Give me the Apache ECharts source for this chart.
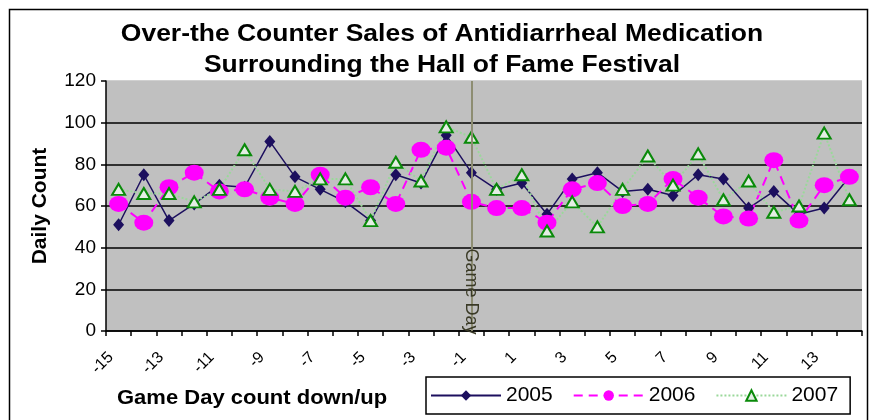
<!DOCTYPE html>
<html>
<head>
<meta charset="utf-8">
<script src="https://cdn.jsdelivr.net/npm/echarts@6/dist/echarts.min.js"></script>
<style>
html,body{margin:0;padding:0;background:#fff;}
#chart{width:872px;height:420px;}
</style>
</head>
<body>
<div id="chart"></div>
<script>
const categories = ['-15','-14','-13','-12','-11','-10','-9','-8','-7','-6','-5','-4','-3','-2','-1','0','1','2','3','4','5','6','7','8','9','10','11','12','13','14'];
const sales2005 = [51,75,53,61,70,69,91,74,68,62,53,75,71,94,76,68,71,56,73,76,67,68,65,75,73,59,67,56,59,74];
const sales2006 = [61,52,69,76,67,68,64,61,75,64,69,61,87,88,62,59,59,52,68,71,60,61,73,64,55,54,82,53,70,74];
const sales2007 = [68,66,66,62,68,87,68,67,73,73,53,81,72,98,93,68,75,48,62,50,68,84,70,85,63,72,57,60,95,63];
const seriesNames = ['2005','2006','2007'];
const titleLines = ['Over-the Counter Sales of Antidiarrheal Medication', 'Surrounding the Hall of Fame Festival'];
const xAxisTitle = 'Game Day count down/up';
const yAxisTitle = 'Daily Count';
const gameDayCategory = '-1';
const gameDayText = 'Game Day';
const yMin = 0, yMax = 120, yStep = 20;

const chart = echarts.init(document.getElementById('chart'), null, {renderer:'canvas'});
const FONT = 'Liberation Sans, Arial, sans-serif';

const option = {
  backgroundColor: '#ffffff',
  animation: false,
  graphic: [
    {
      type: 'rect', silent: true, z: -1,
      shape: {x: 9.5, y: 9.5, width: 858, height: 430},
      style: {fill: 'none', stroke: '#000', lineWidth: 1.5}
    },
    {
      type: 'text', silent: true, x: 442, y: 35, scaleX: 1.15,
      style: {text: titleLines[0], fill: '#000', font: 'bold 23px ' + FONT, textAlign: 'center', textVerticalAlign: 'middle', verticalAlign: 'middle'}
    },
    {
      type: 'text', silent: true, x: 442, y: 65.5, scaleX: 1.15,
      style: {text: titleLines[1], fill: '#000', font: 'bold 23px ' + FONT, textAlign: 'center', textVerticalAlign: 'middle', verticalAlign: 'middle'}
    },
    {
      type: 'text', silent: true, x: 117, y: 398, scaleX: 1.1,
      style: {text: xAxisTitle, fill: '#000', font: 'bold 20px ' + FONT, textAlign: 'left', textVerticalAlign: 'middle', verticalAlign: 'middle'}
    }
  ],
  legend: {
    data: seriesNames,
    left: 426, top: 377,
    padding: [8, 12, 8, 4],
    itemGap: 20,
    itemWidth: 70, itemHeight: 13,
    borderColor: '#000', borderWidth: 1.5,
    backgroundColor: '#fff',
    textStyle: {fontFamily: FONT, fontSize: 21, color: '#000'}
  },
  grid: {
    left: 106, right: 10, top: 81, bottom: 89,
    show: true, backgroundColor: '#c0c0c0', borderWidth: 0
  },
  xAxis: {
    type: 'category',
    data: categories,
    boundaryGap: true,
    axisLine: {lineStyle: {color: '#000', width: 1.5}},
    axisTick: {show: true, interval: 0, length: 5, lineStyle: {color: '#000', width: 1.5}},
    axisLabel: {interval: 1, rotate: 45, margin: 16, padding: [0, 11, 0, 0], fontFamily: FONT, fontSize: 16, color: '#000'},
    splitLine: {show: false}
  },
  yAxis: {
    type: 'value',
    min: yMin, max: yMax, interval: yStep,
    name: yAxisTitle,
    nameLocation: 'middle',
    nameGap: 55,
    nameRotate: 90,
    nameTextStyle: {fontFamily: FONT, fontWeight: 'bold', fontSize: 21, color: '#000'},
    axisLine: {show: true, lineStyle: {color: '#000', width: 1.5}},
    axisTick: {show: true, length: 5, lineStyle: {color: '#000', width: 1.5}},
    axisLabel: {margin: 10, fontFamily: FONT, fontSize: 19, color: '#000'},
    splitLine: {show: true, lineStyle: {color: ['#000','#000','#000','#000','#000','#000','#c0c0c0'], width: 1.5}}
  },
  series: [
    {
      name: '2005', type: 'line', data: sales2005,
      symbol: 'diamond', symbolSize: [11, 13],
      lineStyle: {color: '#1c0f5e', width: 1.5},
      itemStyle: {color: '#1c0f5e'},
      markLine: {
        silent: true, symbol: ['none','none'],
        lineStyle: {color: '#8d8d72', width: 2, type: 'solid'},
        label: {show: false},
        data: [[{coord: [gameDayCategory, yMax]}, {coord: [gameDayCategory, yMin]}]]
      },
      markPoint: {
        silent: true, symbol: 'rect', symbolSize: 1,
        itemStyle: {color: 'rgba(0,0,0,0)'},
        label: {show: true, formatter: gameDayText, rotate: -90, position: 'inside',
                fontFamily: FONT, fontSize: 18, color: '#3a3a26'},
        data: [{coord: [gameDayCategory, 19]}]
      }
    },
    {
      name: '2006', type: 'line', data: sales2006,
      symbol: 'circle', symbolSize: [19, 16],
      lineStyle: {color: '#ff00ff', width: 2, type: [9, 6]},
      itemStyle: {color: '#ff00ff'}
    },
    {
      name: '2007', type: 'line', data: sales2007,
      symbol: 'triangle', symbolSize: [13, 11],
      lineStyle: {color: '#9ad89a', width: 2, type: [2, 2]},
      itemStyle: {color: '#e4eee4', borderColor: '#0a8a0a', borderWidth: 2}
    }
  ]
};
chart.setOption(option);
</script>
</body>
</html>
